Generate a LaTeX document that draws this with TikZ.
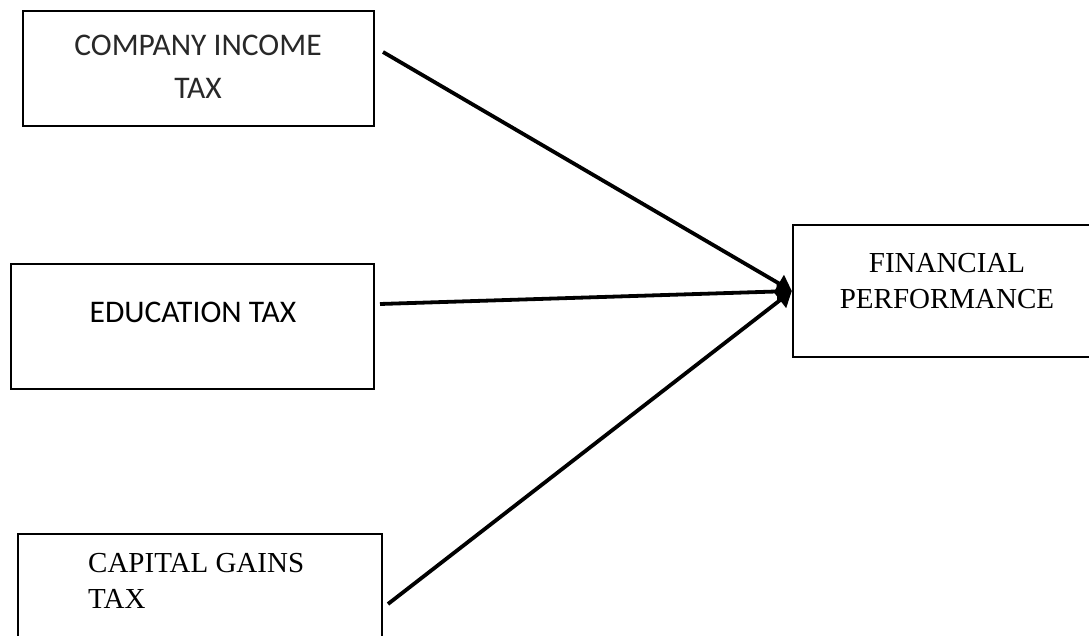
\documentclass[tikz,border=0pt]{standalone}
\usepackage{fontspec}
\newfontfamily\calib{Carlito}
\newfontfamily\timesf{Liberation Serif}
\usetikzlibrary{arrows.meta}
\tikzset{
  boxnode/.style={draw=black, line width=2.3pt, rectangle, inner sep=0pt},
  calibtext/.style={inner sep=0pt, align=center, font=\calib\fontsize{31.5}{43}\selectfont},
  timestext/.style={inner sep=0pt, font=\timesf\fontsize{29}{36}\selectfont},
  conn/.style={line width=3.8pt, -{Triangle[length=15pt,width=19pt]}}
}
\begin{document}
\begin{tikzpicture}[x=1pt,y=-1pt]
\clip (0,0) rectangle (1089,636);
\fill[white] (0,0) rectangle (1089,636);
% boxes
\node[boxnode, minimum width=351pt, minimum height=115pt] (cit) at (198.5,68.5) {};
\node[boxnode, minimum width=363pt, minimum height=125pt] (edu) at (192.5,326.5) {};
\node[boxnode, minimum width=364pt, minimum height=130pt] (cgt) at (200,599) {};
\node[boxnode, minimum width=310pt, minimum height=132pt] (fin) at (948,291) {};
% texts
\node[calibtext, text={rgb,255:red,40;green,40;blue,40}] (citt) at (198,66.5) {COMPANY INCOME\\TAX};
\node[calibtext] (edut) at (193,312) {EDUCATION TAX};
\node[timestext, align=left, anchor=west] (cgtt) at (88,580.5) {CAPITAL GAINS\\TAX};
\node[timestext, align=center] (fint) at (947,281.5) {FINANCIAL\\PERFORMANCE};
% connector start points
\coordinate (s1) at (383,52);
\coordinate (s2) at (380,304);
\coordinate (s3) at (388,604);
\draw[conn] (s1) -- (fin.west);
\draw[conn] (s2) -- (fin.west);
\draw[conn] (s3) -- (fin.west);
\end{tikzpicture}
\end{document}
